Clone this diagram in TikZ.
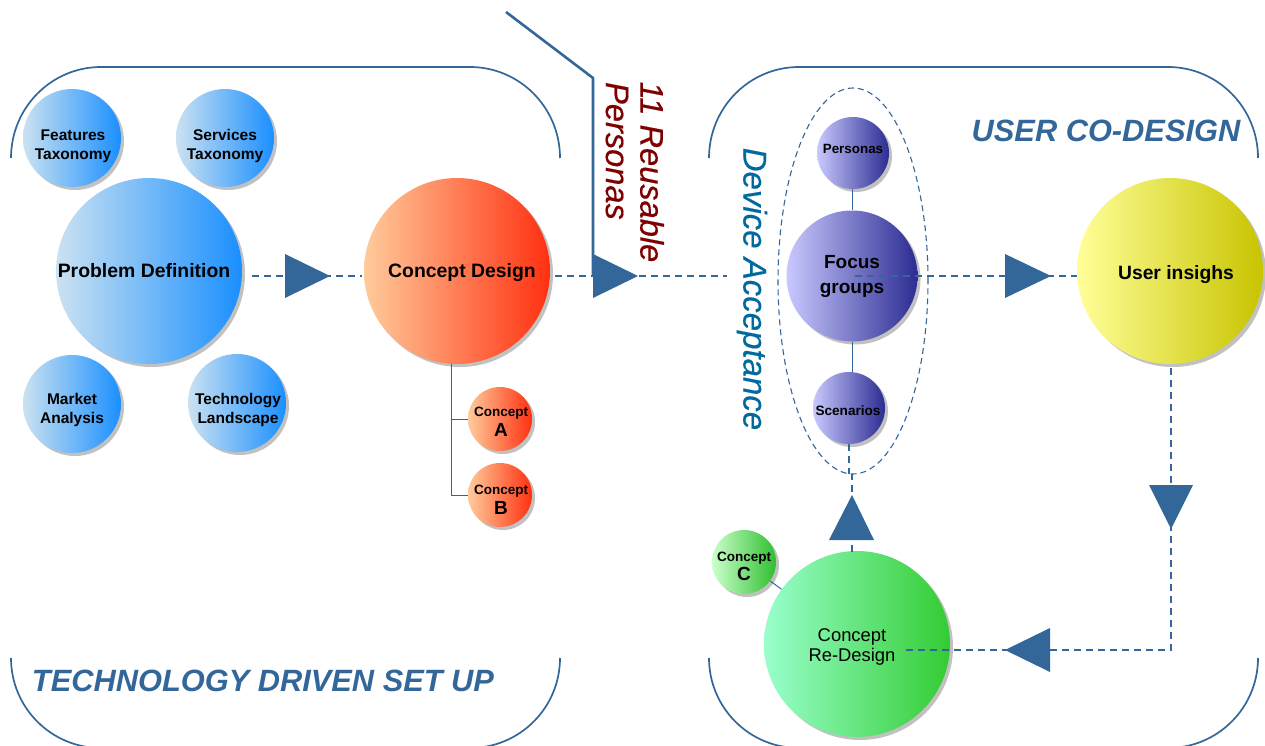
\documentclass[tikz,border=0pt]{standalone}
\usepackage{fontspec}
\setmainfont[ItalicFeatures={FakeBold=0.4}]{Liberation Sans}
\usetikzlibrary{shapes.geometric,shadows,calc}
\definecolor{linkblue}{HTML}{336699}
\definecolor{titleblue}{HTML}{336699}
\definecolor{devblue}{HTML}{006A9E}
\definecolor{darkred}{HTML}{7F0000}
\newcommand{\fs}[1]{\fontsize{#1}{#1}\selectfont}
% text set at an offset (dx,dy) from the centre of its circle, with a line distance
\newcommand{\lab}[4]{\makebox[0pt]{\hspace*{\dimexpr 2\dimexpr #1pt\relax\relax}\raisebox{\dimexpr -#2pt - 0.25em\relax}[0pt][0pt]{\parbox[c]{220pt}{\centering\lineskiplimit=-100pt\baselineskip=#3pt\relax #4\par}}}}
\tikzset{
  x=1pt,y=-1pt,
  ball/.style={circle,inner sep=0pt,align=center,font=\bfseries,
    drop shadow={shadow xshift=3pt,shadow yshift=-3pt,fill=black!35,opacity=0.7}},
  r49/.style={ball,minimum size=98pt,font=\bfseries\fs{15.5}},
  r93/.style={ball,minimum size=186pt,font=\bfseries\fs{19.4}},
  r32/.style={ball,minimum size=64pt,font=\bfseries\fs{13.5}},
  r36/.style={ball,minimum size=72pt,font=\bfseries\fs{13.4}},
  bluegrad/.style={left color=blue1,right color=blue2},
  redgrad/.style={left color=red1,right color=red2},
  purplegrad/.style={left color=purple1,right color=purple2},
  yellowgrad/.style={left color=yellow1,right color=yellow2},
  greengrad/.style={left color=green1,right color=green2},
  smallgreen/.style={left color=green3,right color=green4},
  corner/.style={draw=linkblue,line width=1.7pt},
  solidlink/.style={draw=linkblue,line width=1pt},
  dashlink/.style={draw=linkblue,line width=1.1pt,dash pattern=on 7pt off 5pt},
  head/.style={fill=linkblue,draw=none},
  persona/.style={draw=linkblue,line width=2.6pt,line join=miter},
  title/.style={text=titleblue,font=\bfseries\itshape\fs{30.8}},
}
\definecolor{blue1}{HTML}{CBE2F1}\definecolor{blue2}{HTML}{1A8FFF}
\definecolor{red1}{HTML}{FFCB9B}\definecolor{red2}{HTML}{FF3010}
\definecolor{purple1}{HTML}{C9C9FF}\definecolor{purple2}{HTML}{2C2C92}
\definecolor{yellow1}{HTML}{FFFF99}\definecolor{yellow2}{HTML}{C8C400}
\definecolor{green1}{HTML}{99FFCC}\definecolor{green2}{HTML}{33CC33}
\definecolor{green3}{HTML}{CCFFCC}\definecolor{green4}{HTML}{2FBF2F}
\begin{document}
\begin{tikzpicture}
\useasboundingbox (0,0) rectangle (1265,746);
\clip (0,0) rectangle (1265,746);

% rounded frames
\draw[corner] (11,158) arc[start angle=180,end angle=270,x radius=90,y radius=91] -- (470,67) arc[start angle=270,end angle=360,x radius=90,y radius=91];
\draw[corner] (709,158) arc[start angle=180,end angle=270,x radius=90,y radius=91] -- (1168,67) arc[start angle=270,end angle=360,x radius=90,y radius=91];
\draw[corner] (11,658) arc[start angle=180,end angle=90,x radius=90,y radius=90] -- (470,748) arc[start angle=90,end angle=0,x radius=90,y radius=90];
\draw[corner] (709,658) arc[start angle=180,end angle=90,x radius=90,y radius=90] -- (1168,748) arc[start angle=90,end angle=0,x radius=90,y radius=90];

% circles
\node[r49,bluegrad] (features) at (72,138) {\lab{1}{8}{19}{Features\\Taxonomy}};
\node[r49,bluegrad] (services) at (225,138) {\lab{0}{8}{19}{Services\\Taxonomy}};
\node[r49,bluegrad] (market) at (72,404) {\lab{0}{6}{19}{Market\\Analysis}};
\node[r49,bluegrad] (techland) at (237,403) {\lab{1}{7}{19}{Technology\\Landscape}};
\node[r93,bluegrad] (problem) at (149,271) {\lab{-5}{0}{19}{Problem Definition}};
\node[r93,redgrad] (design) at (457,271) {\lab{5}{2}{19}{Concept Design}};
\node[r32,redgrad] (conA) at (500,419) {\lab{1}{3}{20}{Concept\\{\fs{19}A}}};
\node[r32,redgrad] (conB) at (500,495) {\lab{1}{5}{20}{Concept\\{\fs{19}B}}};
\node[r93,purplegrad,minimum size=131pt,font=\bfseries\fs{19}] (focus) at (852,276) {\lab{0}{0}{25}{Focus\\groups}};
\node[r36,purplegrad] (personas) at (853,153) {\lab{0}{-4}{14}{Personas}};
\node[r36,purplegrad,font=\bfseries\fs{13.6}] (scenarios) at (849,408) {\lab{-1}{3}{14}{Scenarios}};
\node[r93,yellowgrad,font=\bfseries\fs{19.3}] (insights) at (1170,271) {\lab{6}{4}{19}{User insighs}};
\node[r93,greengrad,font=\fs{18.4}] (redesign) at (857,644) {\lab{-5}{3}{20}{Concept\\Re-Design}};
\node[r32,smallgreen,font=\bfseries\fs{13.5}] (conC) at (744,562) {\lab{0}{5}{19}{Concept\\{\fs{19}C}}};

% dashed group ellipse
\node[ellipse,draw=linkblue,line width=1.1pt,dash pattern=on 6pt off 4pt,minimum width=150pt,minimum height=386pt,inner sep=0pt] (group) at (853,281) {};

% free ends of connectors
\coordinate (pdout) at (252,276);
\coordinate (cdin) at (362,276);
\coordinate (cdout) at (555,276);
\coordinate (cdend) at (727,276);
\coordinate (fgout) at (855,276);
\coordinate (uiin) at (1077,276);
\coordinate (uiout) at (1171,368);
\coordinate (bend) at (1171,650);
\coordinate (rdin) at (905,650);
\coordinate (rdtop) at (852,552);
\coordinate (gbot) at (852,474);
\coordinate (trunktop) at (451,364);
\coordinate (trunka) at (451,419);
\coordinate (trunkb) at (451,495);
\coordinate (pa) at (506,12);
\coordinate (pb) at (593,78);
\coordinate (pc) at (593,276);

% connectors
\draw[dashlink] (pdout) -- (cdin);
\draw[dashlink] (cdout) -- (cdend);
\draw[dashlink] (fgout) -- (uiin);
\draw[dashlink] (uiout) -- (bend) -- (rdin);
\draw[dashlink] (rdtop) -- (gbot);
\draw[dashlink] (scenarios.south) -- (scenarios.south |- gbot);
\draw[solidlink] (personas.south -| focus.north) -- (focus.north);
\draw[solidlink] (focus.south) -- (focus.south |- scenarios.north);
\draw[solidlink] (trunktop) -- (trunkb) -- (conB);
\draw[solidlink] (trunka) -- (conA);
\draw[solidlink] (conC) -- (redesign);
\draw[persona] (pa) -- (pb) -- (pc);

% arrow heads
\fill[head] (285,254) -- (330,276) -- (285,298) -- cycle;
\fill[head] (pc) ++(0,-22) -- ++(45,22) -- ++(-45,22) -- cycle;
\fill[head] (1005,254) -- (1051,276) -- (1005,298) -- cycle;
\fill[head] (1149,485) -- (1193,485) -- (1171,529) -- cycle;
\fill[head] (1050,628) -- (1050,672) -- (1005,650) -- cycle;
\fill[head] (829,540) -- (874,540) -- (852,495) -- cycle;

% labels
\node[title] (tdsu) at (263,681) {TECHNOLOGY DRIVEN SET UP};
\node[title] (ucd) at (1106,131) {USER CO-DESIGN};
\node[rotate=-90,text=devblue,font=\itshape\fs{33}] (device) at (752,289) {Device Acceptance};
\node[rotate=-90,text=darkred,font=\itshape\fs{32.6}] (reuse) at (652,172) {11 Reusable};
\node[rotate=-90,text=darkred,font=\itshape\fs{32.6}] (pers) at (617,151) {Personas};
\end{tikzpicture}
\end{document}
